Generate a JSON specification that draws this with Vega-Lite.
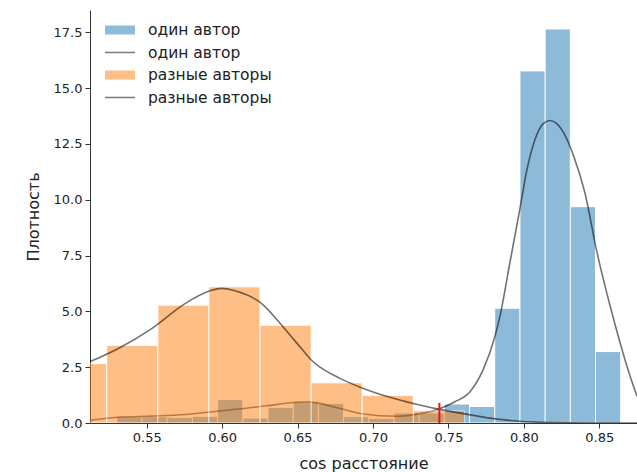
{
  "$schema": "https://vega.github.io/schema/vega-lite/v6.json",
  "width": 547,
  "height": 413,
  "autosize": {"type": "none"},
  "padding": {"left": 90, "top": 10, "right": 0, "bottom": 49},
  "background": "white",
  "config": {
    "view": {"stroke": null},
    "font": "DejaVu Sans",
    "axis": {"grid": false, "domainColor": "#333", "tickColor": "#333", "labelColor": "#222", "titleColor": "#222", "labelFontSize": 13, "titleFontSize": 16, "titleFontWeight": "normal", "tickSize": 5, "labelPadding": 3}
  },
  "datasets": {
    "hist": [
      {"series": "один автор | гистограмма", "bin_start": 0.5302, "bin_end": 0.5469, "density": 0.28},
      {"series": "один автор | гистограмма", "bin_start": 0.5469, "bin_end": 0.5636, "density": 0.28},
      {"series": "один автор | гистограмма", "bin_start": 0.5636, "bin_end": 0.5803, "density": 0.25},
      {"series": "один автор | гистограмма", "bin_start": 0.5803, "bin_end": 0.5970, "density": 0.3},
      {"series": "один автор | гистограмма", "bin_start": 0.5970, "bin_end": 0.6137, "density": 1.05},
      {"series": "один автор | гистограмма", "bin_start": 0.6137, "bin_end": 0.6304, "density": 0.22},
      {"series": "один автор | гистограмма", "bin_start": 0.6304, "bin_end": 0.6471, "density": 0.7},
      {"series": "один автор | гистограмма", "bin_start": 0.6471, "bin_end": 0.6638, "density": 0.95},
      {"series": "один автор | гистограмма", "bin_start": 0.6638, "bin_end": 0.6805, "density": 0.88},
      {"series": "один автор | гистограмма", "bin_start": 0.6805, "bin_end": 0.6972, "density": 0.28},
      {"series": "один автор | гистограмма", "bin_start": 0.6972, "bin_end": 0.7139, "density": 0.2},
      {"series": "один автор | гистограмма", "bin_start": 0.7139, "bin_end": 0.7306, "density": 0.45},
      {"series": "один автор | гистограмма", "bin_start": 0.7306, "bin_end": 0.7473, "density": 0.45},
      {"series": "один автор | гистограмма", "bin_start": 0.7473, "bin_end": 0.7640, "density": 0.85},
      {"series": "один автор | гистограмма", "bin_start": 0.7640, "bin_end": 0.7807, "density": 0.74},
      {"series": "один автор | гистограмма", "bin_start": 0.7807, "bin_end": 0.7974, "density": 5.14},
      {"series": "один автор | гистограмма", "bin_start": 0.7974, "bin_end": 0.8141, "density": 15.77},
      {"series": "один автор | гистограмма", "bin_start": 0.8141, "bin_end": 0.8308, "density": 17.65},
      {"series": "один автор | гистограмма", "bin_start": 0.8308, "bin_end": 0.8475, "density": 9.69},
      {"series": "один автор | гистограмма", "bin_start": 0.8475, "bin_end": 0.8642, "density": 3.2},
      {"series": "разные авторы | гистограмма", "bin_start": 0.4896, "bin_end": 0.5235, "density": 2.66},
      {"series": "разные авторы | гистограмма", "bin_start": 0.5235, "bin_end": 0.5574, "density": 3.48},
      {"series": "разные авторы | гистограмма", "bin_start": 0.5574, "bin_end": 0.5912, "density": 5.28},
      {"series": "разные авторы | гистограмма", "bin_start": 0.5912, "bin_end": 0.6251, "density": 6.1},
      {"series": "разные авторы | гистограмма", "bin_start": 0.6251, "bin_end": 0.6590, "density": 4.38},
      {"series": "разные авторы | гистограмма", "bin_start": 0.6590, "bin_end": 0.6928, "density": 1.8},
      {"series": "разные авторы | гистограмма", "bin_start": 0.6928, "bin_end": 0.7267, "density": 1.24},
      {"series": "разные авторы | гистограмма", "bin_start": 0.7267, "bin_end": 0.7606, "density": 0.55}
    ],
    "kde": [
      {"series": "один автор | KDE", "x": 0.5124, "density": 0.12},
      {"series": "один автор | KDE", "x": 0.531, "density": 0.26},
      {"series": "один автор | KDE", "x": 0.5533, "density": 0.31},
      {"series": "один автор | KDE", "x": 0.5754, "density": 0.38},
      {"series": "один автор | KDE", "x": 0.592, "density": 0.49},
      {"series": "один автор | KDE", "x": 0.614, "density": 0.65},
      {"series": "один автор | KDE", "x": 0.6306, "density": 0.78},
      {"series": "один автор | KDE", "x": 0.6494, "density": 0.93},
      {"series": "один автор | KDE", "x": 0.656, "density": 0.95},
      {"series": "один автор | KDE", "x": 0.6627, "density": 0.9},
      {"series": "один автор | KDE", "x": 0.6781, "density": 0.65},
      {"series": "один автор | KDE", "x": 0.6936, "density": 0.4},
      {"series": "один автор | KDE", "x": 0.7157, "density": 0.3},
      {"series": "один автор | KDE", "x": 0.7312, "density": 0.42},
      {"series": "один автор | KDE", "x": 0.7433, "density": 0.62},
      {"series": "один автор | KDE", "x": 0.7543, "density": 0.95},
      {"series": "один автор | KDE", "x": 0.7643, "density": 1.4},
      {"series": "один автор | KDE", "x": 0.7731, "density": 2.4},
      {"series": "один автор | KDE", "x": 0.7809, "density": 3.9},
      {"series": "один автор | KDE", "x": 0.7842, "density": 4.8},
      {"series": "один автор | KDE", "x": 0.7908, "density": 7.2},
      {"series": "один автор | KDE", "x": 0.7974, "density": 9.6},
      {"series": "один автор | KDE", "x": 0.8019, "density": 11.3},
      {"series": "один автор | KDE", "x": 0.8074, "density": 12.7},
      {"series": "один автор | KDE", "x": 0.8127, "density": 13.4},
      {"series": "один автор | KDE", "x": 0.8173, "density": 13.55},
      {"series": "один автор | KDE", "x": 0.822, "density": 13.4},
      {"series": "один автор | KDE", "x": 0.8272, "density": 12.9},
      {"series": "один автор | KDE", "x": 0.8328, "density": 12.0},
      {"series": "один автор | KDE", "x": 0.8405, "density": 10.3},
      {"series": "один автор | KDE", "x": 0.8483, "density": 7.7},
      {"series": "один автор | KDE", "x": 0.8593, "density": 4.7},
      {"series": "один автор | KDE", "x": 0.8704, "density": 2.1},
      {"series": "один автор | KDE", "x": 0.875, "density": 1.2},
      {"series": "разные авторы | KDE", "x": 0.5124, "density": 2.75},
      {"series": "разные авторы | KDE", "x": 0.5312, "density": 3.34},
      {"series": "разные авторы | KDE", "x": 0.5533, "density": 4.23},
      {"series": "разные авторы | KDE", "x": 0.5754, "density": 5.35},
      {"series": "разные авторы | KDE", "x": 0.592, "density": 5.92},
      {"series": "разные авторы | KDE", "x": 0.5997, "density": 6.03},
      {"series": "разные авторы | KDE", "x": 0.6085, "density": 5.92},
      {"series": "разные авторы | KDE", "x": 0.6262, "density": 5.35},
      {"series": "разные авторы | KDE", "x": 0.6417, "density": 4.2},
      {"series": "разные авторы | KDE", "x": 0.653, "density": 3.3},
      {"series": "разные авторы | KDE", "x": 0.6594, "density": 2.8},
      {"series": "разные авторы | KDE", "x": 0.6649, "density": 2.5},
      {"series": "разные авторы | KDE", "x": 0.6781, "density": 2.0},
      {"series": "разные авторы | KDE", "x": 0.6936, "density": 1.55},
      {"series": "разные авторы | KDE", "x": 0.7113, "density": 1.15},
      {"series": "разные авторы | KDE", "x": 0.7267, "density": 0.87},
      {"series": "разные авторы | KDE", "x": 0.7433, "density": 0.62},
      {"series": "разные авторы | KDE", "x": 0.7599, "density": 0.42},
      {"series": "разные авторы | KDE", "x": 0.7775, "density": 0.22},
      {"series": "разные авторы | KDE", "x": 0.7974, "density": 0.08},
      {"series": "разные авторы | KDE", "x": 0.8173, "density": 0.02},
      {"series": "разные авторы | KDE", "x": 0.84, "density": 0.0},
      {"series": "разные авторы | KDE", "x": 0.875, "density": 0.0}
    ],
    "marker": [
      {"x": 0.744, "y_start": 0, "y_end": 0.9}
    ]
  },
  "layer": [
    {
      "data": {"name": "hist"},
      "transform": [{"filter": "datum.series == 'один автор | гистограмма'"}],
      "mark": {"type": "rect", "clip": true, "opacity": 0.5, "stroke": "white", "strokeWidth": 1},
      "encoding": {
        "x": {"field": "bin_start", "type": "quantitative", "scale": {"domain": [0.5124, 0.875], "nice": false, "zero": false}, "axis": {"values": [0.55, 0.6, 0.65, 0.7, 0.75, 0.8, 0.85], "format": ".2f", "title": "cos расстояние", "titlePadding": 11}},
        "x2": {"field": "bin_end"},
        "y": {"field": "density", "type": "quantitative", "scale": {"domain": [0, 18.5], "nice": false}, "axis": {"values": [0, 2.5, 5, 7.5, 10, 12.5, 15, 17.5], "format": ".1f", "title": "Плотность", "titlePadding": 12}},
        "y2": {"datum": 0},
        "color": {"field": "series", "type": "nominal",
          "scale": {"domain": ["один автор | гистограмма", "один автор | KDE", "разные авторы | гистограмма", "разные авторы | KDE"], "range": ["#1f77b4", "#000000", "#ff7f0e", "#000000"]},
          "legend": {
            "title": null, "orient": "none", "legendX": 20, "legendY": 10, "padding": 0,
            "labelExpr": "split(datum.value, ' | ')[0]",
            "labelFontSize": 15.5, "labelColor": "#222", "labelOffset": 18,
            "symbolSize": 400, "rowPadding": 3.5, "symbolOpacity": 0.5, "symbolStrokeWidth": 0
          }
        }
      }
    },
    {
      "data": {"name": "kde"},
      "transform": [{"filter": "datum.series == 'один автор | KDE'"}],
      "mark": {"type": "line", "clip": true, "strokeWidth": 1.6, "strokeOpacity": 0.55, "interpolate": "monotone"},
      "encoding": {
        "x": {"field": "x", "type": "quantitative"},
        "y": {"field": "density", "type": "quantitative"},
        "color": {"field": "series", "type": "nominal"}
      }
    },
    {
      "data": {"name": "hist"},
      "transform": [{"filter": "datum.series == 'разные авторы | гистограмма'"}],
      "mark": {"type": "rect", "clip": true, "opacity": 0.5, "stroke": "white", "strokeWidth": 1},
      "encoding": {
        "x": {"field": "bin_start", "type": "quantitative"},
        "x2": {"field": "bin_end"},
        "y": {"field": "density", "type": "quantitative"},
        "y2": {"datum": 0},
        "color": {"field": "series", "type": "nominal"}
      }
    },
    {
      "data": {"name": "kde"},
      "transform": [{"filter": "datum.series == 'разные авторы | KDE'"}],
      "mark": {"type": "line", "clip": true, "strokeWidth": 1.6, "strokeOpacity": 0.55, "interpolate": "monotone"},
      "encoding": {
        "x": {"field": "x", "type": "quantitative"},
        "y": {"field": "density", "type": "quantitative"},
        "color": {"field": "series", "type": "nominal"}
      }
    },
    {
      "data": {"name": "kde"},
      "mark": {"type": "point", "filled": true, "opacity": 0, "clip": true},
      "encoding": {
        "x": {"field": "x", "type": "quantitative"},
        "y": {"field": "density", "type": "quantitative"},
        "color": {"field": "series", "type": "nominal"},
        "shape": {"field": "series", "type": "nominal",
          "scale": {"domain": ["один автор | гистограмма", "один автор | KDE", "разные авторы | гистограмма", "разные авторы | KDE"], "range": ["M-1.5,-0.45H1.5V0.45H-1.5Z", "M-1.5,-0.08H1.5V0.08H-1.5Z", "M-1.5,-0.45H1.5V0.45H-1.5Z", "M-1.5,-0.08H1.5V0.08H-1.5Z"]},
          "legend": {
            "title": null, "orient": "none", "legendX": 20, "legendY": 10, "padding": 0,
            "labelExpr": "split(datum.value, ' | ')[0]",
            "labelFontSize": 15.5, "labelColor": "#222", "labelOffset": 18,
            "symbolSize": 400, "rowPadding": 3.5, "symbolOpacity": 0.5, "symbolStrokeWidth": 0
          }
        }
      }
    },
    {
      "data": {"name": "marker"},
      "mark": {"type": "rule", "color": "#e8141c", "strokeWidth": 2},
      "encoding": {
        "x": {"field": "x", "type": "quantitative"},
        "y": {"field": "y_start", "type": "quantitative"},
        "y2": {"field": "y_end"}
      }
    }
  ]
}
